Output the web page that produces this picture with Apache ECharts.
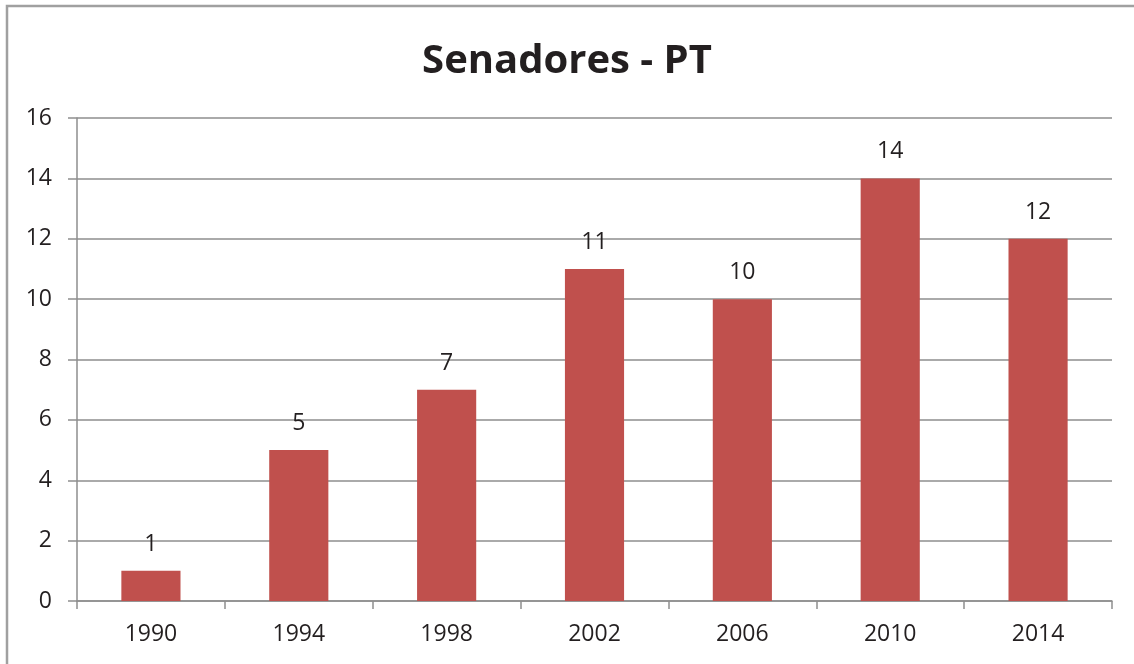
<!DOCTYPE html>
<html>
<head>
<meta charset="utf-8">
<script src="https://cdn.jsdelivr.net/npm/echarts@6/dist/echarts.min.js"></script>
<style>
    html, body { margin: 0; padding: 0; background: #fff; }
    #main { width: 1134px; height: 664px; }
</style>
</head>
<body>
<div id="main"></div>
<script>
    // dados do grafico
    var anos = ['1990', '1994', '1998', '2002', '2006', '2010', '2014'];
    var senadores = [1, 5, 7, 11, 10, 14, 12];
    var yTicks = {min: 0, max: 16, interval: 2};

    var chart = echarts.init(document.getElementById('main'));

    chart.setOption({
        animation: false,
        textStyle: {fontFamily: 'Open Sans'},
        title: {
            text: 'Senadores - PT',
            left: 'center',
            top: 37,
            textStyle: {fontSize: 40, fontWeight: 'bold', color: '#231f20', fontFamily: 'Open Sans'}
        },
        graphic: [{
            type: 'rect',
            shape: {x: 7, y: 6, width: 1300, height: 800},
            style: {fill: null, stroke: '#a0a0a0', lineWidth: 2.5},
            silent: true
        }],
        grid: {left: 77, right: 22, top: 118, bottom: 63},
        xAxis: {
            type: 'category',
            data: anos,
            axisLine: {lineStyle: {color: '#8e8e8e', width: 1.5}},
            axisTick: {show: true, length: 8, lineStyle: {color: '#8e8e8e', width: 1.5}},
            axisLabel: {fontSize: 23, color: '#231f20', margin: 22}
        },
        yAxis: {
            type: 'value',
            min: yTicks.min,
            max: yTicks.max,
            interval: yTicks.interval,
            axisLine: {show: true, lineStyle: {color: '#8e8e8e', width: 1.5}},
            axisTick: {show: true, length: 9, lineStyle: {color: '#8e8e8e', width: 1.5}},
            axisLabel: {fontSize: 23, color: '#231f20', margin: 25},
            splitLine: {lineStyle: {color: '#8e8e8e', width: 1.5}}
        },
        series: [{
            name: 'Senadores',
            type: 'bar',
            data: senadores,
            barWidth: '40%',
            itemStyle: {color: '#C0504D'},
            label: {show: true, position: 'top', distance: 15, fontSize: 23, color: '#231f20'}
        }]
    });
</script>
</body>
</html>
